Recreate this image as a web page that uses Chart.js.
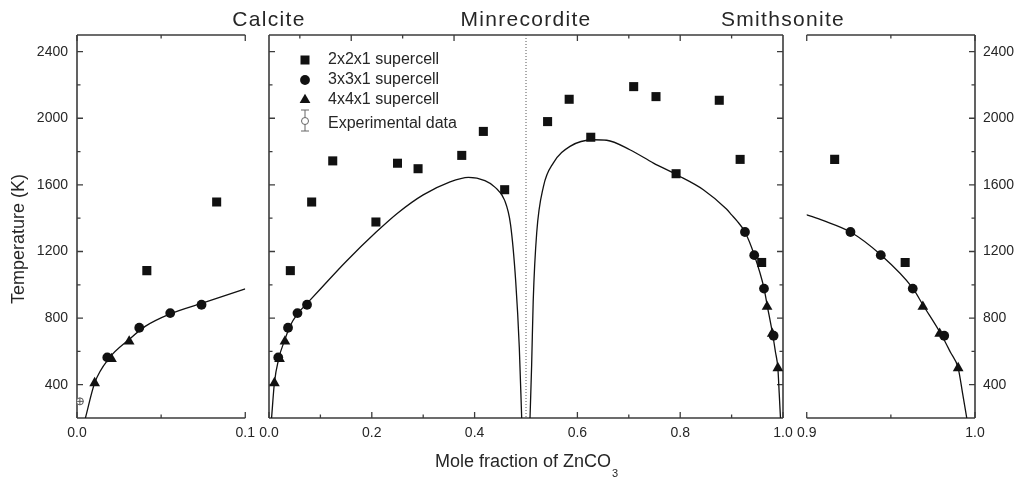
<!DOCTYPE html>
<html>
<head>
<meta charset="utf-8">
<script src="https://cdn.jsdelivr.net/npm/chart.js@4.4.0/dist/chart.umd.min.js"></script>
<style>
html, body { margin: 0; padding: 0; background: #fff; }
#wrap { position: relative; width: 1023px; height: 483px; overflow: hidden; }
#wrap canvas { position: absolute; top: 0; }
</style>
</head>
<body>
<div id="wrap">
  <canvas id="left" width="262" height="483" style="left:0px"></canvas>
  <canvas id="mid" width="660" height="483" style="left:200px"></canvas>
  <canvas id="right" width="233" height="483" style="left:790px"></canvas>
</div>
<script>
// values
// 2x2x1 supercell (squares)
const sq2X = [0.0415, 0.083, 0.124, 0.208, 0.25, 0.29, 0.375, 0.417, 0.4585, 0.542, 0.584, 0.626, 0.7095, 0.7529, 0.792, 0.876, 0.9166, 0.9585];
const sq2Y = [1085, 1497, 1744, 1377, 1730, 1697, 1777, 1921, 1571, 1980, 2114, 1886, 2190, 2130, 1667, 2108, 1753, 1134];
// 3x3x1 supercell (circles)
const ci3X = [0.018, 0.037, 0.0554, 0.074, 0.926, 0.944, 0.963, 0.9817];
const ci3Y = [564, 742, 830, 880, 1317, 1178, 977, 694];
// 4x4x1 supercell (triangles)
const tr4X = [0.0105, 0.0205, 0.031, 0.969, 0.979, 0.990];
const tr4Y = [410, 555, 660, 868, 706, 500];
// experimental data
const expX = [0.0017];
const expY = [300];

// solvus curves
const calCurveX = [0.005, 0.0105, 0.0192, 0.0308, 0.0405, 0.0554, 0.074, 0.1, 0.15, 0.208, 0.25, 0.3, 0.35, 0.388, 0.42, 0.44, 0.458, 0.47, 0.48, 0.487, 0.4916];
const calCurveY = [200, 410, 560, 670, 750, 825, 888, 975, 1140, 1315, 1430, 1540, 1615, 1645, 1625, 1585, 1510, 1360, 1020, 620, 200];
const smiCurveX = [0.5078, 0.511, 0.514, 0.5208, 0.534, 0.553, 0.5856, 0.631, 0.657, 0.702, 0.748, 0.793, 0.845, 0.89, 0.9, 0.91, 0.926, 0.944, 0.963, 0.969, 0.98, 0.9854, 0.99, 0.9926, 0.9951];
const smiCurveY = [200, 520, 900, 1311, 1591, 1731, 1831, 1871, 1868, 1811, 1731, 1661, 1571, 1455, 1420, 1385, 1317, 1180, 980, 880, 700, 595, 500, 350, 200];

// axes / labels
const yMajor = [400, 800, 1200, 1600, 2000, 2400];
const yLabels = ["400", "800", "1200", "1600", "2000", "2400"];
const yMinor = [600, 1000, 1400, 1800, 2200];

const leftXMajor = [0, 0.1];
const leftXLabels = ["0.0", "0.1"];
const leftXMinor = [0.05];

const midXMajor = [0, 0.2, 0.4, 0.6, 0.8, 1.0];
const midXLabels = ["0.0", "0.2", "0.4", "0.6", "0.8", "1.0"];
const midXMinor = [0.1, 0.3, 0.5, 0.7, 0.9];
const midTopMajor = [0.16, 0.36, 0.6, 0.8];
const midTopMinor = [0.06, 0.26, 0.7, 0.9];

const rightXMajor = [0.9, 1.0];
const rightXLabels = ["0.9", "1.0"];
const rightXMinor = [0.95];

const phaseNames = ["Calcite", "Minrecordite", "Smithsonite"];
const phaseAt = [0, 0.5, 1.0];
const legendLabels = ["2x2x1 supercell", "3x3x1 supercell", "4x4x1 supercell", "Experimental data"];

const FONT = '"Liberation Sans", Arial, sans-serif';
const TEXT = "#262626";
const AXIS = "#3c3c3c";
const MARK = "#111111";

Chart.defaults.font.family = FONT;
Chart.defaults.font.size = 14;
Chart.defaults.color = TEXT;

function pts(xs, ys) {
    return xs.map((x, i) => ({ x: x, y: ys[i] }));
}

function labelFor(v, majors, labels) {
    const i = majors.findIndex(m => Math.abs(m - v) < 1e-6);
    return i >= 0 ? labels[i] : "";
}

function makeDatasets(withExp) {
    const sets = [
        { data: pts(sq2X, sq2Y), pointStyle: "rect", pointRadius: 6.4, borderWidth: 0, backgroundColor: MARK },
        { data: pts(ci3X, ci3Y), pointStyle: "circle", pointRadius: 4.9, borderWidth: 0, backgroundColor: MARK },
        { data: pts(tr4X, tr4Y), pointStyle: "triangle", pointRadius: 6.2, borderWidth: 0, backgroundColor: MARK },
        { data: pts(calCurveX, calCurveY), showLine: true, pointRadius: 0, borderColor: "#111", borderWidth: 1.3, cubicInterpolationMode: "monotone" },
        { data: pts(smiCurveX, smiCurveY), showLine: true, pointRadius: 0, borderColor: "#111", borderWidth: 1.3, cubicInterpolationMode: "monotone" }
    ];
    if (withExp) {
        sets.unshift(
            { data: pts(expX, expY), pointStyle: "cross", pointRadius: 3.5, borderColor: "#555", borderWidth: 1, backgroundColor: "#555" },
            { data: pts(expX, expY), pointStyle: "circle", pointRadius: 3.5, borderColor: "#555", borderWidth: 1, backgroundColor: "#fff" }
        );
    }
    return sets;
}

// frame + inward tick marks
function makeFrame(cfg) {
    return {
        id: "frame",
        beforeDatasetsDraw(chart) {
            const { ctx, chartArea: a, scales: { x, y } } = chart;
            ctx.save();
            ctx.strokeStyle = AXIS;
            ctx.lineWidth = 1.6;
            ctx.beginPath();
            if (cfg.sides.left) { ctx.moveTo(a.left, a.top); ctx.lineTo(a.left, a.bottom); }
            if (cfg.sides.right) { ctx.moveTo(a.right, a.top); ctx.lineTo(a.right, a.bottom); }
            ctx.moveTo(a.left, a.top); ctx.lineTo(a.right, a.top);
            ctx.moveTo(a.left, a.bottom); ctx.lineTo(a.right, a.bottom);
            ctx.stroke();

            ctx.lineWidth = 1.3;
            ctx.beginPath();
            const vt = (v, y0, len) => { const px = x.getPixelForValue(v); ctx.moveTo(px, y0); ctx.lineTo(px, y0 + len); };
            const ht = (v, x0, len) => { const py = y.getPixelForValue(v); ctx.moveTo(x0, py); ctx.lineTo(x0 + len, py); };
            cfg.xMajor.forEach(v => vt(v, a.bottom, -6));
            cfg.xMinor.forEach(v => { if (v !== cfg.skipMinor) vt(v, a.bottom, -3.5); });
            cfg.topMajor.forEach(v => vt(v, a.top, 6));
            cfg.topMinor.forEach(v => vt(v, a.top, 3.5));
            if (cfg.sides.left) {
                yMajor.forEach(v => ht(v, a.left, 6));
                yMinor.forEach(v => ht(v, a.left, 3.5));
            }
            if (cfg.sides.right) {
                yMajor.forEach(v => ht(v, a.right, -6));
                yMinor.forEach(v => ht(v, a.right, -3.5));
            }
            ctx.stroke();

            if (cfg.dotted !== undefined) {
                const px = x.getPixelForValue(cfg.dotted);
                ctx.setLineDash([1, 2]);
                ctx.lineWidth = 1;
                ctx.strokeStyle = "#555";
                ctx.beginPath();
                ctx.moveTo(px, a.top);
                ctx.lineTo(px, a.bottom);
                ctx.stroke();
            }
            ctx.restore();
        }
    };
}

function panel(id, cfg) {
    const yScale = {
        type: "linear", min: 200, max: 2500, position: cfg.yPos, display: cfg.yShow,
        grid: { display: false, drawTicks: false }, border: { display: false },
        ticks: { stepSize: 200, autoSkip: false, padding: cfg.yPad, callback: v => labelFor(v, yMajor, yLabels) }
    };
    if (cfg.yShow) yScale.afterFit = s => { s.width = cfg.yWidth; };

    return new Chart(document.getElementById(id), {
        type: "scatter",
        data: { datasets: makeDatasets(cfg.withExp) },
        options: {
            responsive: false,
            animation: false,
            events: [],
            layout: { padding: cfg.padding },
            plugins: { legend: { display: false }, tooltip: { enabled: false } },
            scales: {
                x: {
                    type: "linear", min: cfg.xMin, max: cfg.xMax,
                    grid: { display: false, drawTicks: false }, border: { display: false },
                    afterFit: s => { s.height = 30; },
                    ticks: { stepSize: cfg.xStep, autoSkip: false, maxRotation: 0, padding: 7,
                             callback: v => labelFor(v, cfg.xMajor, cfg.xLabels) }
                },
                y: yScale
            }
        },
        plugins: [makeFrame(cfg)].concat(cfg.extra || [])
    });
}

// y axis title, left panel
const yTitle = {
    id: "ytitle",
    afterDraw(chart) {
        const ctx = chart.ctx;
        ctx.save();
        ctx.translate(19, 239);
        ctx.rotate(-Math.PI / 2);
        ctx.font = "18px " + FONT;
        ctx.fillStyle = TEXT;
        ctx.textAlign = "center";
        ctx.textBaseline = "middle";
        ctx.fillText("Temperature (K)", 0, 0);
        ctx.restore();
    }
};

// titles, x title and legend, middle panel
const midText = {
    id: "midtext",
    afterDraw(chart) {
        const { ctx, chartArea: a, scales: { x } } = chart;
        ctx.save();
        ctx.fillStyle = TEXT;
        ctx.font = "21px " + FONT;
        ctx.letterSpacing = "1.3px";
        ctx.textAlign = "center";
        ctx.textBaseline = "middle";
        phaseNames.forEach((n, i) => ctx.fillText(n, x.getPixelForValue(phaseAt[i]), 20));

        ctx.letterSpacing = "0px";
        const main = "Mole fraction of ZnCO";
        ctx.font = "18px " + FONT;
        const wMain = ctx.measureText(main).width;
        ctx.font = "11px " + FONT;
        const wSub = ctx.measureText("3").width;
        const x0 = x.getPixelForValue(0.5) - (wMain + wSub) / 2;
        ctx.textAlign = "left";
        ctx.textBaseline = "alphabetic";
        ctx.font = "18px " + FONT;
        ctx.fillText(main, x0, 467);
        ctx.font = "11px " + FONT;
        ctx.fillText("3", x0 + wMain + 1, 477);

        // legend
        const lx = a.left + 36;
        const rows = [a.top + 25, a.top + 45, a.top + 65, a.top + 88];
        ctx.fillStyle = MARK;
        ctx.fillRect(lx - 4.5, rows[0] - 4.5, 9, 9);
        ctx.beginPath();
        ctx.arc(lx, rows[1], 4.9, 0, Math.PI * 2);
        ctx.fill();
        ctx.beginPath();
        ctx.moveTo(lx, rows[2] - 6.2);
        ctx.lineTo(lx + 5.4, rows[2] + 3.1);
        ctx.lineTo(lx - 5.4, rows[2] + 3.1);
        ctx.closePath();
        ctx.fill();

        const ey = rows[3] - 2;
        ctx.strokeStyle = "#666";
        ctx.lineWidth = 1;
        ctx.beginPath();
        ctx.moveTo(lx, ey - 11); ctx.lineTo(lx, ey + 10);
        ctx.moveTo(lx - 4, ey - 11); ctx.lineTo(lx + 4, ey - 11);
        ctx.moveTo(lx - 4, ey + 10); ctx.lineTo(lx + 4, ey + 10);
        ctx.stroke();
        ctx.beginPath();
        ctx.arc(lx, ey, 3.5, 0, Math.PI * 2);
        ctx.fillStyle = "#fff";
        ctx.fill();
        ctx.stroke();

        ctx.fillStyle = TEXT;
        ctx.font = "16px " + FONT;
        ctx.textBaseline = "middle";
        legendLabels.forEach((t, i) => ctx.fillText(t, lx + 23, rows[i] + (i === 3 ? 1 : 0)));
        ctx.restore();
    }
};

panel("left", {
    xMin: 0, xMax: 0.1, xStep: 0.05,
    xMajor: leftXMajor, xLabels: leftXLabels, xMinor: leftXMinor,
    topMajor: leftXMajor, topMinor: leftXMinor,
    sides: { left: true, right: false },
    yPos: "left", yShow: true, yWidth: 77, yPad: 9,
    padding: { left: 0, right: 13, top: 35, bottom: 35 },
    withExp: true,
    extra: [yTitle]
});

panel("mid", {
    xMin: 0, xMax: 1, xStep: 0.1,
    xMajor: midXMajor, xLabels: midXLabels, xMinor: midXMinor, skipMinor: 0.5,
    topMajor: midTopMajor, topMinor: midTopMinor,
    sides: { left: true, right: true },
    dotted: 0.5,
    yPos: "left", yShow: false,
    padding: { left: 69, right: 77, top: 35, bottom: 35 },
    extra: [midText]
});

panel("right", {
    xMin: 0.9, xMax: 1.0, xStep: 0.05,
    xMajor: rightXMajor, xLabels: rightXLabels, xMinor: rightXMinor,
    topMajor: rightXMajor, topMinor: rightXMinor,
    sides: { left: false, right: true },
    yPos: "right", yShow: true, yWidth: 48, yPad: 8,
    padding: { left: 14, right: 0, top: 35, bottom: 35 }
});
</script>
</body>
</html>
